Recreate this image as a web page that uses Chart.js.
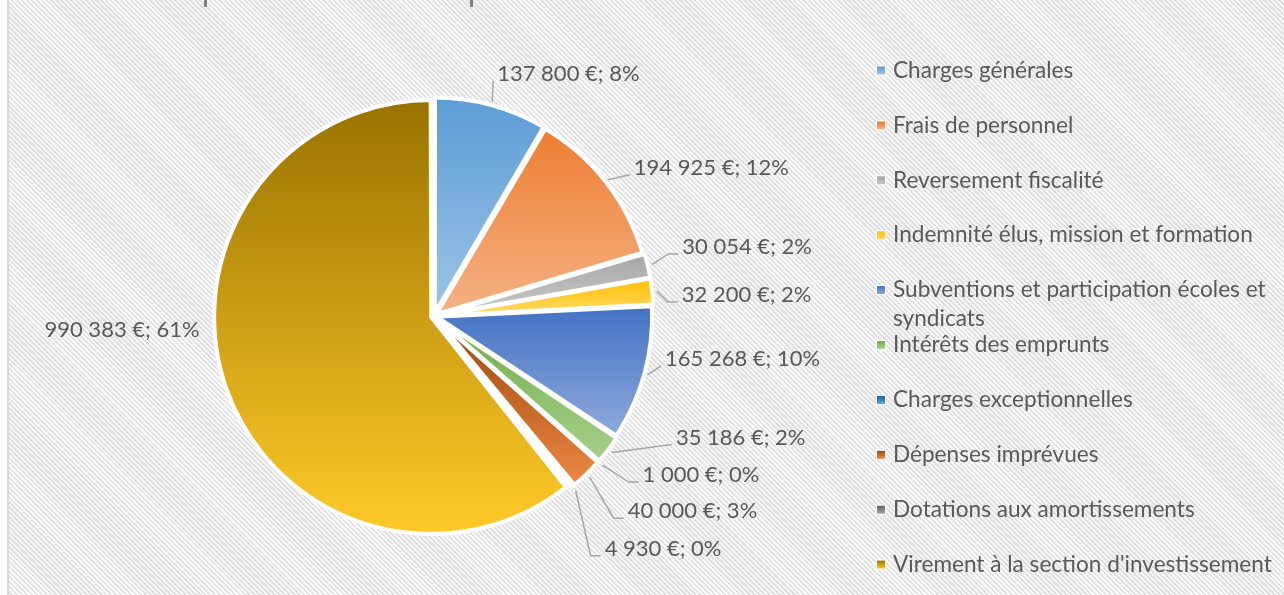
<!DOCTYPE html>
<html><head><meta charset="utf-8">
<script src="https://cdn.jsdelivr.net/npm/chart.js@4.4.0/dist/chart.umd.min.js"></script>
<style>
html,body{margin:0;padding:0;width:1284px;height:595px;overflow:hidden;background:#fff;}
#bg{position:absolute;left:9px;top:0;width:1275px;height:595px;
  background:repeating-linear-gradient(45deg,#fafafa 0px,#fafafa 1.7px,#e1e1e1 1.7px,#e1e1e1 3.5px);}
#edge{position:absolute;left:7px;top:0;width:2px;height:595px;background:#d9d9d9;}
.tick{position:absolute;top:0;width:3px;height:7px;background:#808080;}
#wrap{position:absolute;left:0;top:0;width:1284px;height:595px;}
</style></head><body>
<div id="bg"></div><div id="edge"></div>
<div class="tick" style="left:204px"></div><div class="tick" style="left:470px"></div>
<div id="wrap"><canvas id="c"></canvas></div>
<script>
// ---- data ----
const categories = [
  'Charges générales',
  'Frais de personnel',
  'Reversement fiscalité',
  'Indemnité élus, mission et formation',
  'Subventions et participation écoles et syndicats',
  'Intérêts des emprunts',
  'Charges exceptionnelles',
  'Dépenses imprévues',
  'Dotations aux amortissements',
  "Virement à la section d'investissement"
];
const amounts = [137800, 194925, 30054, 32200, 165268, 35186, 1000, 40000, 4930, 990383];
const percentLabels = ['8%', '12%', '2%', '2%', '10%', '2%', '0%', '3%', '0%', '61%'];

// ---- styles ----
const baseColors = ['#5B9BD5','#ED7D31','#A5A5A5','#FFC000','#4472C4','#70AD47','#255E91','#9E480E','#636363','#997300'];
const OFFSET = 12, BORDER = 4, RADIUS = 214;
const TEXT_COLOR = '#595959', LEADER_COLOR = '#a6a6a6';
const LABEL_FONT = '22px Lato', LEGEND_FONT = '22.6px Lato';
// label text anchor relative to the arc's outer mid-point: [dx, dy, elbow, align]
const labelPlacement = [
  [5,-28,false,'left'], [26,-12,false,'left'], [30,-17.5,true,'left'], [25,4,true,'left'],
  [17.5,-15.5,false,'left'], [64,-15,false,'left'], [40,10,true,'left'], [38,34,true,'left'],
  [29,58,true,'left'], [-22,-60,null,'right']
];

function fmtAmount(n){ return String(n).replace(/\B(?=(\d{3})+(?!\d))/g,' ') + ' €'; }
function hexToHsl(h){
  const r=parseInt(h.substr(1,2),16)/255,g=parseInt(h.substr(3,2),16)/255,b=parseInt(h.substr(5,2),16)/255;
  const mx=Math.max(r,g,b),mn=Math.min(r,g,b);let hh=0,s=0;const l=(mx+mn)/2;
  if(mx!==mn){const d=mx-mn;s=l>0.5?d/(2-mx-mn):d/(mx+mn);
    if(mx===r)hh=(g-b)/d+(g<b?6:0);else if(mx===g)hh=(b-r)/d+2;else hh=(r-g)/d+4;hh/=6;}
  return [hh,s,l];
}
function hslToCss(h,s,l){return 'hsl('+(h*360).toFixed(1)+','+(s*100).toFixed(1)+'%,'+(l*100).toFixed(1)+'%)';}
function tint(hex,amt){const [h,s,l]=hexToHsl(hex);return hslToCss(h,s,l+(1-l)*amt);}

function arcGeom(arc){
  const off=OFFSET/4;
  const circ=arc.endAngle-arc.startAngle;
  const fix=1-Math.sin(Math.min(Math.PI,circ));
  const ro=off*fix, t=off+ro;
  const mid=(arc.startAngle+arc.endAngle)/2;
  return {x:arc.x+Math.cos(mid)*t, y:arc.y+Math.sin(mid)*t, r:arc.outerRadius+ro, mid:mid, a0:arc.startAngle, a1:arc.endAngle};
}
function geomFromData(chart,i){
  const a=chart.chartArea; const vals=chart.data.datasets[0].data;
  const total=vals.reduce((s,v)=>s+v,0);
  let a0=-Math.PI/2; for(let j=0;j<i;j++) a0+=2*Math.PI*vals[j]/total;
  const a1=a0+2*Math.PI*vals[i]/total;
  return arcGeom({x:(a.left+a.right)/2,y:(a.top+a.bottom)/2,startAngle:a0,endAngle:a1,outerRadius:RADIUS});
}
function fillFor(c){
  const i=c.dataIndex, base=baseColors[i];
  const chart=c.chart;
  if(!chart.chartArea) return base;
  const g=geomFromData(chart,i);
  const ys=[g.y, g.y+g.r*Math.sin(g.a0), g.y+g.r*Math.sin(g.a1)];
  for(let k=-2;k<=4;k++){const ang=-Math.PI/2+k*Math.PI; if(ang>g.a0&&ang<g.a1) ys.push(g.y+g.r*Math.sin(ang));}
  const y0=Math.min(...ys), y1=Math.max(...ys);
  const grad=chart.ctx.createLinearGradient(0,y0,0,y1);
  grad.addColorStop(0,base); grad.addColorStop(1,tint(base,0.4));
  return grad;
}

const pieLabels = {
  id:'pieLabels',
  afterDatasetsDraw(chart){
    const ctx=chart.ctx; const meta=chart.getDatasetMeta(0);
    ctx.save();
    ctx.font=LABEL_FONT; ctx.textBaseline='middle';
    meta.data.forEach((arc,i)=>{
      const g=arcGeom(arc);
      const R=g.r+BORDER/2;
      const px=g.x+Math.cos(g.mid)*R, py=g.y+Math.sin(g.mid)*R;
      const [dx,dy,elbow,align]=labelPlacement[i];
      const tx=px+dx, ty=py+dy;
      if(elbow!==null){
        const ex=tx-4, ey=ty+7;
        ctx.strokeStyle=LEADER_COLOR; ctx.lineWidth=1.5;
        ctx.beginPath(); ctx.moveTo(px,py);
        if(elbow){ ctx.lineTo(ex-10,ey); }
        ctx.lineTo(ex,ey); ctx.stroke();
      }
      ctx.fillStyle=TEXT_COLOR; ctx.textAlign=align;
      ctx.fillText(fmtAmount(amounts[i])+'; '+percentLabels[i], tx, ty);
    });
    ctx.restore();
  }
};

const sideLegend = {
  id:'sideLegend',
  afterDraw(chart){
    const ctx=chart.ctx;
    const boxX=877, box=8, textX=893, firstY=70.5, step=54.9, lineH=29;
    const maxW=chart.width-textX;
    ctx.save(); ctx.font=LEGEND_FONT; ctx.textBaseline='middle'; ctx.textAlign='left';
    chart.data.labels.forEach((lab,i)=>{
      const cy=firstY+i*step;
      const gr=ctx.createLinearGradient(0,cy-box/2,0,cy+box/2);
      gr.addColorStop(0,baseColors[i]); gr.addColorStop(1,tint(baseColors[i],0.4));
      ctx.fillStyle='#ffffff'; ctx.fillRect(boxX-1,cy-box/2-1,box+2,box+2);
      ctx.fillStyle=gr; ctx.fillRect(boxX,cy-box/2,box,box);
      const words=lab.split(' '); const lines=[]; let cur='';
      words.forEach(w=>{const t=cur?cur+' '+w:w; if(ctx.measureText(t).width>maxW&&cur){lines.push(cur);cur=w;}else cur=t;});
      lines.push(cur);
      ctx.fillStyle=TEXT_COLOR;
      lines.forEach((ln,k)=>ctx.fillText(ln,textX,cy+k*lineH));
    });
    ctx.restore();
  }
};

new Chart(document.getElementById('c'),{
  type:'pie',
  data:{labels:categories,datasets:[{data:amounts,backgroundColor:fillFor,borderColor:'#ffffff',borderWidth:BORDER,
    offset:OFFSET,hoverOffset:OFFSET,borderJoinStyle:'round',radius:RADIUS}]},
  options:{responsive:true,maintainAspectRatio:false,animation:false,events:[],radius:RADIUS,
    layout:{padding:{left:0,right:416,top:37,bottom:0}},
    plugins:{legend:{display:false},tooltip:{enabled:false}}},
  plugins:[pieLabels,sideLegend]
});
</script>
</body></html>
